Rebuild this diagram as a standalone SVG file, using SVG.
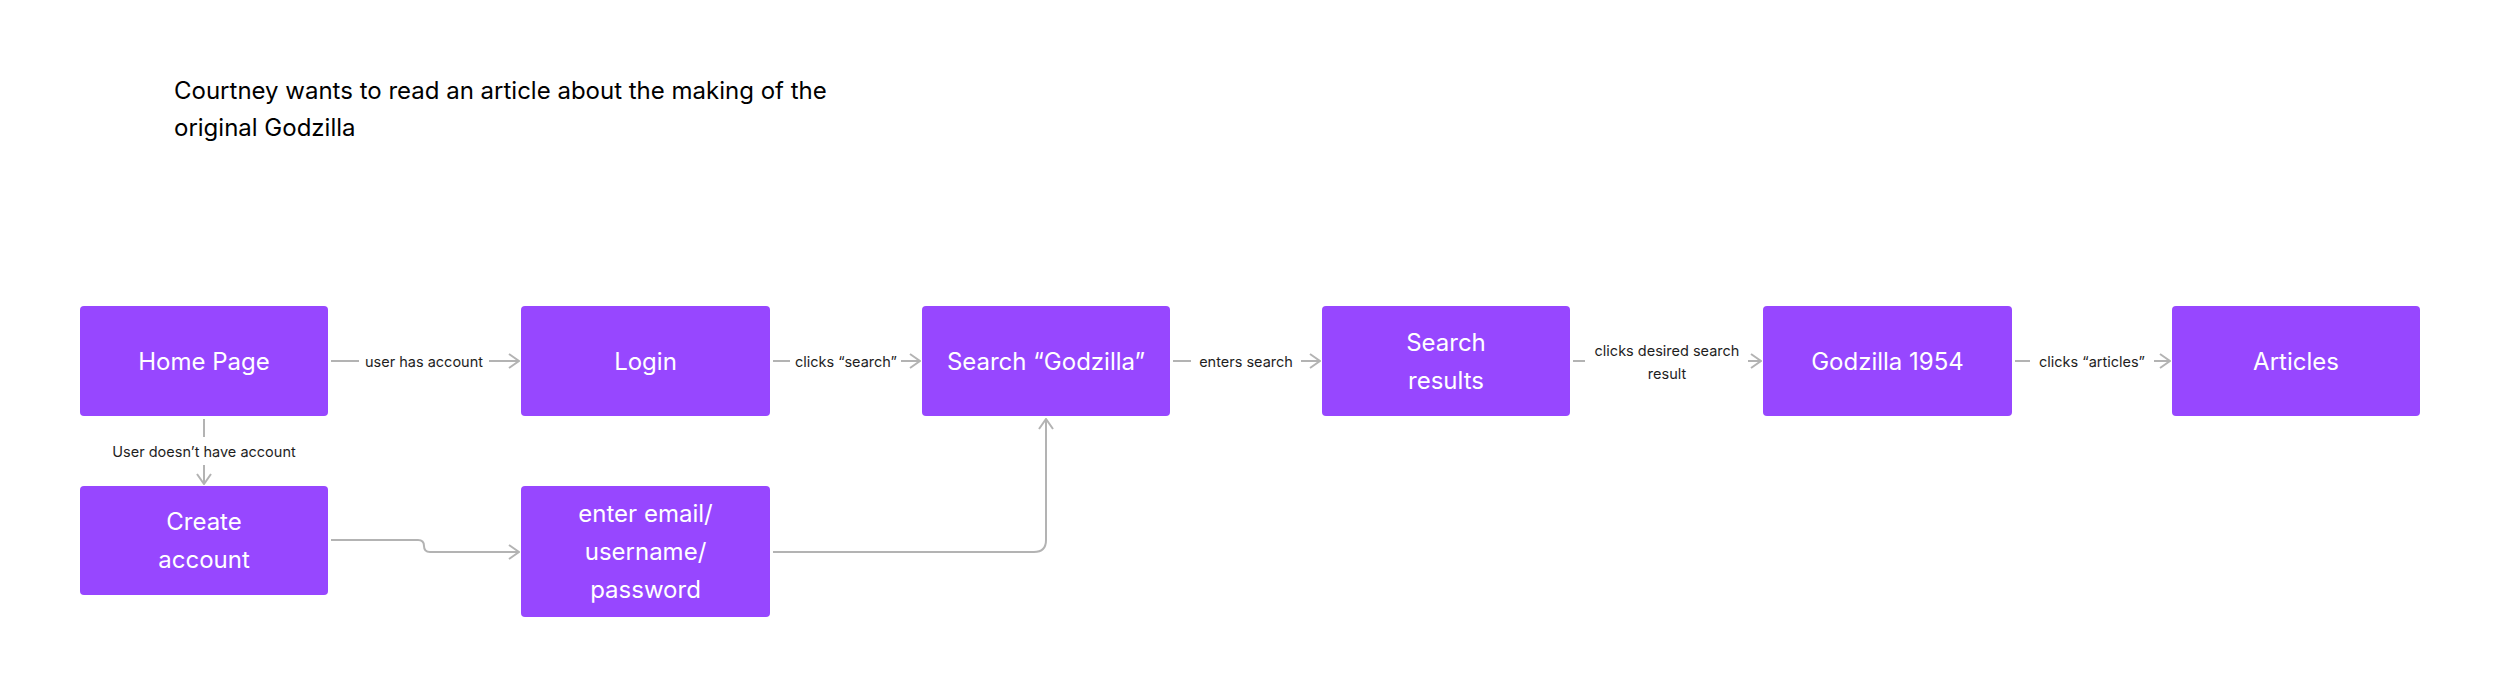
<svg xmlns="http://www.w3.org/2000/svg" width="2500" height="697" viewBox="0 0 2500 697">
<style>
.node rect{fill:#9747FF;}
.node text{fill:#FFFFFF;font-family:Inter,"Liberation Sans",sans-serif;font-size:24px;text-anchor:middle;dominant-baseline:central;}
.edge{fill:none;stroke:#B3B3B3;stroke-width:2;}
.lbl{fill:#1E1E1E;font-family:Inter,"Liberation Sans",sans-serif;font-size:14.5px;text-anchor:middle;dominant-baseline:central;}
.title{fill:#000000;font-family:Inter,"Liberation Sans",sans-serif;font-size:24px;}
</style>
<defs>
<marker id="arr" viewBox="0 0 12 16" refX="11" refY="8" markerWidth="12" markerHeight="16" markerUnits="userSpaceOnUse" orient="auto">
<path d="M1,1 L11,8 L1,15" fill="none" stroke="#B3B3B3" stroke-width="2"/>
</marker>
</defs>
<rect width="2500" height="697" fill="#FFFFFF"/>
<text class="title" x="174" y="99">Courtney wants to read an article about the making of the</text>
<text class="title" x="174" y="136">original Godzilla</text>

<g id="connectors">
<!-- Home -> Login -->
<path class="edge" d="M331,361 H359"/>
<path class="edge" d="M489,361 H519" marker-end="url(#arr)"/>
<text class="lbl" x="424" y="361">user has account</text>
<!-- Home -> Create account -->
<path class="edge" d="M204,419 V437"/>
<path class="edge" d="M204,465 V484" marker-end="url(#arr)"/>
<text class="lbl" x="204" y="451">User doesn’t have account</text>
<!-- Create account -> enter email -->
<path class="edge" d="M331,540 H418 Q424,540 424,546 Q424,552 430,552 H519" marker-end="url(#arr)"/>
<!-- enter email -> Search Godzilla -->
<path class="edge" d="M773,552 H1034 Q1046,552 1046,540 V419" marker-end="url(#arr)"/>
<!-- Login -> Search -->
<path class="edge" d="M773,361 H790"/>
<path class="edge" d="M901,361 H920" marker-end="url(#arr)"/>
<text class="lbl" x="846" y="361">clicks “search”</text>
<!-- Search -> Search results -->
<path class="edge" d="M1173,361 H1191"/>
<path class="edge" d="M1301,361 H1320" marker-end="url(#arr)"/>
<text class="lbl" x="1246" y="361">enters search</text>
<!-- Search results -> Godzilla 1954 -->
<path class="edge" d="M1573,361 H1585"/>
<path class="edge" d="M1748,361 H1761" marker-end="url(#arr)"/>
<text class="lbl" x="1667" y="350">clicks desired search</text>
<text class="lbl" x="1667" y="373">result</text>
<!-- Godzilla 1954 -> Articles -->
<path class="edge" d="M2015,361 H2030"/>
<path class="edge" d="M2154,361 H2170" marker-end="url(#arr)"/>
<text class="lbl" x="2092" y="361">clicks “articles”</text>
</g>

<g id="home" class="node"><rect x="80" y="306" width="248" height="110" rx="4"/><text x="204" y="361">Home Page</text></g>
<g id="login" class="node"><rect x="521" y="306" width="249" height="110" rx="4"/><text x="645.5" y="361">Login</text></g>
<g id="search" class="node"><rect x="922" y="306" width="248" height="110" rx="4"/><text x="1046" y="361">Search “Godzilla”</text></g>
<g id="results" class="node"><rect x="1322" y="306" width="248" height="110" rx="4"/><text x="1446" y="342">Search</text><text x="1446" y="380">results</text></g>
<g id="godzilla1954" class="node"><rect x="1763" y="306" width="249" height="110" rx="4"/><text x="1887.5" y="361">Godzilla 1954</text></g>
<g id="articles" class="node"><rect x="2172" y="306" width="248" height="110" rx="4"/><text x="2296" y="361">Articles</text></g>
<g id="create" class="node"><rect x="80" y="486" width="248" height="109" rx="4"/><text x="204" y="521">Create</text><text x="204" y="559">account</text></g>
<g id="enter" class="node"><rect x="521" y="486" width="249" height="131" rx="4"/><text x="645.5" y="513">enter email/</text><text x="645.5" y="551">username/</text><text x="645.5" y="589">password</text></g>
</svg>
